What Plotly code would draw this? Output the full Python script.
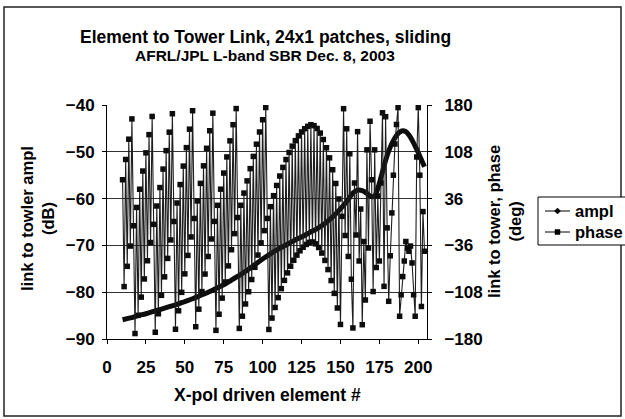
import plotly.graph_objects as go

# ---------------- data ----------------
elements = list(range(10, 205))  # X-pol driven element #

phase_deg = [
    65, -99.4, 96.2, -68.2, 127.4, -37, 158.6, -5.8, -171.6, 22.4,          # 10-19
    -143.6, 50.4, -115.6, 78.4, -87.6, 106.4, -59.6, 134.4, -31.6, 162.4,   # 20-29
    -3.6, -169.6, 24.6, -141.2, 53, -112.8, 81.4, -84.4, 109.8, -56,        # 30-39
    138.2, -27.6, 166.6, 0.8, -165, 29.2, -136.6, 57.6, -108.2, 86,         # 40-49
    -79.8, 114.4, -51.4, 142.8, -23, 171.2, 5.4, -161.1, 32.4, -134.1,      # 50-59
    59.4, -107.1, 86.4, -80.1, 113.4, -53.1, 140.4, -26.1, 167.4, 0.9,      # 60-69
    -166.7, 25.7, -141.9, 50.5, -117.1, 75.3, -92.3, 100.1, -67.5, 124.9,   # 70-79
    -42.7, 149.7, -17.9, 174.5, 6.9, -163.7, 25.7, -144.9, 44.5, -126.1,    # 80-89
    63.3, -107.3, 82.1, -88.5, 100.9, -69.7, 119.7, -50.9, 138.5, -32.1,    # 90-99
    157.3, -13.3, 176.1, 5.5, -165.3, 23.6, -147.8, 40.5, -131.5, 56.2,     # 100-109
    -116.4, 70.7, -102.5, 84, -89.8, 96.1, -78.3, 107, -68, 116.7,          # 110-119
    -58.9, 125.2, -51, 132.5, -44.3, 138.6, -38.8, 143.5, -34.5, 147.2,     # 120-129
    -31.4, 149.7, -30.7, 148.2, -33.6, 143.9, -39.3, 136.8, -47.8, 126.9,   # 130-139
    -59.1, 114.2, -73.2, 98.7, -90.1, 80.4, -109.8, 59.3, -132.3, 35.4,     # 140-149
    -157.6, 8.7, 174.3, -20.8, 143.4, -53, 105, -88, -163, 60,              # 150-159
    -20, 139, -60, 20, -158, -30, -120, 111, -40, 155,                      # 160-169
    65, -107, 111, -70, 40, -60, 60, 168, -99, 162,                         # 170-179
    -9, -122, -52, 14, 72, 120, 150, 176, -145, -112,                       # 180-189
    -84, -60, -30, -40, -45, -37, -63, -112, -145, 100,                     # 190-199
    176, 72, -130, 16, -45,                                                 # 200-204
]

ampl_elements = [10, 15, 20, 25, 30, 35, 40, 45, 50, 55, 60, 65, 70, 75, 80,
                 85, 90, 95, 100, 105, 110, 115, 120, 125, 130, 135, 140, 145,
                 150, 155, 158, 161, 164, 167, 170, 172, 174, 176, 178, 180,
                 182, 184, 186, 188, 190, 192, 194, 196, 198, 200, 202, 204]
ampl_db = [-85.9, -85.5, -85.0, -84.6, -84.1, -83.6, -83.1, -82.6, -82.0, -81.4,
           -80.7, -80.0, -79.2, -78.4, -77.4, -76.4, -75.3, -74.1, -72.9, -71.8,
           -70.8, -69.9, -69.0, -68.2, -67.3, -66.4, -65.3, -63.9, -62.2, -60.2,
           -58.8, -58.2, -58.3, -58.9, -59.6, -59.4, -57.8, -55.5, -53.0, -50.8,
           -49.0, -47.6, -46.5, -45.8, -45.5, -45.7, -46.4, -47.5, -48.8, -50.2,
           -51.7, -53.2]

x_ticks = [0, 25, 50, 75, 100, 125, 150, 175, 200]
ampl_ticks = [-90, -80, -70, -60, -50, -40]
phase_ticks = [-180, -108, -36, 36, 108, 180]

title = "Element to Tower Link, 24x1 patches, sliding"
subtitle = "AFRL/JPL L-band SBR Dec. 8, 2003"
legend_names = ["ampl", "phase"]

# ---------------- figure ----------------
FONT = "Liberation Sans, Arial, sans-serif"
W, H = 625, 419
L, R, T, B = 107, 198, 105, 80
PW, PH = W - L - R, H - T - B


def px_x(p):
    return (p - L) / PW


def px_y(p):
    return 1 - (p - T) / PH


fig = go.Figure()

fig.add_trace(go.Scatter(
    x=elements, y=phase_deg, yaxis="y2", mode="lines+markers",
    line=dict(color="#1e1e1e", width=1.1),
    marker=dict(symbol="square", size=5.5, color="#0d0d0d"),
    showlegend=False, hoverinfo="skip"))

fig.add_trace(go.Scatter(
    x=ampl_elements, y=ampl_db, yaxis="y", mode="lines",
    line=dict(color="#0d0d0d", width=5, shape="spline"),
    showlegend=False, hoverinfo="skip"))

tickfont = dict(family=FONT, size=17, color="black", weight="bold")

fig.update_layout(
    width=W, height=H,
    margin=dict(l=L, r=R, t=T, b=B, autoexpand=False),
    paper_bgcolor="white", plot_bgcolor="white",
    font=dict(family=FONT, color="black"),
    showlegend=False,
    xaxis=dict(range=[0, 205.6], tickvals=x_ticks, ticks="outside", ticklen=4,
               tickcolor="black", showline=True, linecolor="black", linewidth=1,
               showgrid=False, zeroline=False, tickfont=tickfont,
               ticklabelstandoff=9),
    yaxis=dict(range=[-90, -40], tickvals=ampl_ticks, ticks="outside", ticklen=4,
               tickcolor="black", showline=True, linecolor="black", linewidth=1,
               showgrid=True, gridcolor="#333333", gridwidth=1, zeroline=False,
               tickfont=tickfont, ticklabelstandoff=4),
    yaxis2=dict(range=[-180, 180], tickvals=phase_ticks, overlaying="y", side="right",
                ticks="outside", ticklen=4, tickcolor="black", showline=True,
                linecolor="black", linewidth=1, showgrid=False, zeroline=False,
                tickfont=tickfont, ticklabelstandoff=9),
)

ann_font = dict(family=FONT, color="black")
fig.add_annotation(text="<b>" + title + "</b>", xref="paper", yref="paper",
                   x=px_x(265), y=px_y(37), showarrow=False,
                   font=dict(size=17.5, **ann_font), xanchor="center", yanchor="middle")
fig.add_annotation(text="<b>" + subtitle + "</b>", xref="paper", yref="paper",
                   x=px_x(265), y=px_y(55), showarrow=False,
                   font=dict(size=15.5, **ann_font), xanchor="center", yanchor="middle")
fig.add_annotation(text="<b>X-pol driven element #</b>", xref="paper", yref="paper",
                   x=px_x(267), y=px_y(395), showarrow=False,
                   font=dict(size=17.5, **ann_font), xanchor="center", yanchor="middle")
fig.add_annotation(text="<b>link to towler ampl<br>(dB)</b>", xref="paper", yref="paper",
                   x=px_x(37), y=px_y(219), showarrow=False, textangle=-90,
                   font=dict(size=16.5, **ann_font), xanchor="center", yanchor="middle")
fig.add_annotation(text="<b>link to tower, phase<br>(deg)</b>", xref="paper", yref="paper",
                   x=px_x(504), y=px_y(222), showarrow=False, textangle=-90,
                   font=dict(size=16.5, **ann_font), xanchor="center", yanchor="middle")

# chart-area border
fig.add_shape(type="rect", xref="paper", yref="paper",
              x0=px_x(4), x1=px_x(621), y0=px_y(416), y1=px_y(7),
              line=dict(color="#222222", width=1.5), layer="below")

# legend (drawn by hand so it sits where the reference puts it)
fig.add_shape(type="rect", xref="paper", yref="paper",
              x0=px_x(538), x1=px_x(640), y0=px_y(245), y1=px_y(197),
              line=dict(color="black", width=1), fillcolor="white", layer="above")
for i, name in enumerate(legend_names):
    yy = 211 + i * 21
    fig.add_shape(type="line", xref="paper", yref="paper",
                  x0=px_x(545), x1=px_x(570), y0=px_y(yy), y1=px_y(yy),
                  line=dict(color="black", width=1), layer="above")
    if name == "ampl":
        fig.add_shape(type="path", xref="paper", yref="paper", layer="above",
                      path="M {a},{b} L {c},{d} L {a},{e} L {f},{d} Z".format(
                          a=px_x(557.5), b=px_y(yy - 3), c=px_x(560.5), d=px_y(yy),
                          e=px_y(yy + 3), f=px_x(554.5)),
                      fillcolor="black", line=dict(color="black", width=0.5))
    else:
        fig.add_shape(type="rect", xref="paper", yref="paper", layer="above",
                      x0=px_x(555), x1=px_x(560), y0=px_y(yy + 2.5), y1=px_y(yy - 2.5),
                      fillcolor="black", line=dict(color="black", width=0.5))
    fig.add_annotation(text="<b>" + name + "</b>", xref="paper", yref="paper",
                       x=px_x(573), y=px_y(yy), showarrow=False,
                       font=dict(size=16.5, **ann_font), xanchor="left", yanchor="middle")

fig.write_html("out.html", config={"displayModeBar": False},
               post_script="document.body.style.margin='0px';")
